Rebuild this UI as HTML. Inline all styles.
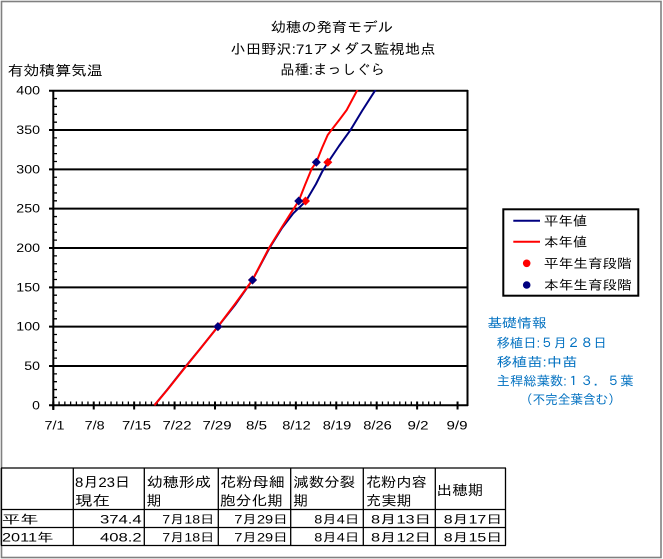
<!DOCTYPE html>
<html><head><meta charset="utf-8"><style>
html,body{margin:0;padding:0;background:#fff;}
body{width:663px;height:559px;overflow:hidden;}
svg{display:block;}
text{font-family:"Liberation Sans","IPAGothic","Noto Sans CJK JP",sans-serif;}
</style></head><body>
<svg width="663" height="559" viewBox="0 0 663 559" xmlns="http://www.w3.org/2000/svg">
<rect x="0" y="0" width="663" height="559" fill="#fff"/>
<rect x="1.5" y="1.5" width="659.5" height="556" fill="none" stroke="#808080" stroke-width="1.6"/>

<!-- titles -->
<text x="270.6" y="32" font-size="14" textLength="122.4" lengthAdjust="spacingAndGlyphs">幼穂の発育モデル</text>
<text x="230.4" y="54" font-size="14" textLength="205" lengthAdjust="spacingAndGlyphs">小田野沢:71アメダス監視地点</text>
<text x="280.3" y="74.5" font-size="14" textLength="104.5" lengthAdjust="spacingAndGlyphs">品種:まっしぐら</text>
<text x="7.6" y="75.5" font-size="14" textLength="95" lengthAdjust="spacingAndGlyphs">有効積算気温</text>

<!-- gridlines -->
<g stroke="#000" stroke-width="2" fill="none">
<path d="M49 90.7H468 M49 130.03H468 M49 169.35H468 M49 208.68H468 M49 248H468 M49 287.33H468 M49 326.65H468 M49 365.98H468 M49 405.3H468"/>
<path d="M53.3 90V410 M467.5 90V406"/>
</g>
<!-- minor ticks -->
<path stroke="#000" stroke-width="1.3" fill="none" d="M53.3 397.44h3.7m-3.7-7.865h3.7m-3.7-7.865h3.7m-3.7-7.865h3.7m-3.7-7.865h3.7m-3.7-7.865h3.7m-3.7-7.865h3.7m-3.7-7.865h3.7m-3.7-7.865h3.7m-3.7-7.865h3.7m-3.7-7.865h3.7m-3.7-7.865h3.7m-3.7-7.865h3.7m-3.7-7.865h3.7m-3.7-7.865h3.7m-3.7-7.865h3.7m-3.7-7.865h3.7m-3.7-7.865h3.7m-3.7-7.865h3.7m-3.7-7.865h3.7m-3.7-7.865h3.7m-3.7-7.865h3.7m-3.7-7.865h3.7m-3.7-7.865h3.7m-3.7-7.865h3.7m-3.7-7.865h3.7m-3.7-7.865h3.7m-3.7-7.865h3.7m-3.7-7.865h3.7m-3.7-7.865h3.7m-3.7-7.865h3.7m-3.7-7.865h3.7m-3.7-7.865h3.7m-3.7-7.865h3.7m-3.7-7.865h3.7m-3.7-7.865h3.7m-3.7-7.865h3.7m-3.7-7.865h3.7m-3.7-7.865h3.7"/>
<path stroke="#000" stroke-width="1.3" fill="none" d="M53.3 401.5v4m5.775-4v4m5.775-4v4m5.775-4v4m5.775-4v4m5.775-4v4m5.775-4v4m5.775-4v4m5.775-4v4m5.775-4v4m5.775-4v4m5.775-4v4m5.775-4v4m5.775-4v4m5.775-4v4m5.775-4v4m5.775-4v4m5.775-4v4m5.775-4v4m5.775-4v4m5.775-4v4m5.775-4v4m5.775-4v4m5.775-4v4m5.775-4v4m5.775-4v4m5.775-4v4m5.775-4v4m5.775-4v4m5.775-4v4m5.775-4v4m5.775-4v4m5.775-4v4m5.775-4v4m5.775-4v4m5.775-4v4m5.775-4v4m5.775-4v4m5.775-4v4m5.775-4v4m5.775-4v4m5.775-4v4m5.775-4v4m5.775-4v4m5.775-4v4m5.775-4v4m5.775-4v4m5.775-4v4m5.775-4v4m5.775-4v4m5.775-4v4m5.775-4v4m5.775-4v4m5.775-4v4m5.775-4v4m5.775-4v4m5.775-4v4m5.775-4v4m5.775-4v4m5.775-4v4m5.775-4v4m5.775-4v4m5.775-4v4m5.775-4v4m5.775-4v4m5.775-4v4m5.775-4v4m5.775-4v4"/>
<path stroke="#000" stroke-width="2" fill="none" d="M53.3 401.5V409.5 M93.73 401.5V409.5 M134.15 401.5V409.5 M174.58 401.5V409.5 M215 401.5V409.5 M255.43 401.5V409.5 M295.85 401.5V409.5 M336.28 401.5V409.5 M376.7 401.5V409.5 M417.13 401.5V409.5 M457.55 401.5V409.5"/>

<!-- y labels -->
<g font-size="11.5" text-anchor="end">
<text x="40" y="94.7" textLength="23.7" lengthAdjust="spacingAndGlyphs">400</text>
<text x="40" y="134" textLength="23.7" lengthAdjust="spacingAndGlyphs">350</text>
<text x="40" y="173.4" textLength="23.7" lengthAdjust="spacingAndGlyphs">300</text>
<text x="40" y="212.7" textLength="23.7" lengthAdjust="spacingAndGlyphs">250</text>
<text x="40" y="252" textLength="23.7" lengthAdjust="spacingAndGlyphs">200</text>
<text x="40" y="291.3" textLength="23.7" lengthAdjust="spacingAndGlyphs">150</text>
<text x="40" y="330.6" textLength="23.7" lengthAdjust="spacingAndGlyphs">100</text>
<text x="40" y="370" textLength="15.7" lengthAdjust="spacingAndGlyphs">50</text>
<text x="40" y="409.3" textLength="7.8" lengthAdjust="spacingAndGlyphs">0</text>
</g>
<!-- x labels -->
<g font-size="11.5" text-anchor="middle">
<text x="54.5" y="429.3" textLength="20" lengthAdjust="spacingAndGlyphs">7/1</text>
<text x="94.7" y="429.3" textLength="20" lengthAdjust="spacingAndGlyphs">7/8</text>
<text x="136.5" y="429.3" textLength="29" lengthAdjust="spacingAndGlyphs">7/15</text>
<text x="177" y="429.3" textLength="29" lengthAdjust="spacingAndGlyphs">7/22</text>
<text x="217" y="429.3" textLength="29" lengthAdjust="spacingAndGlyphs">7/29</text>
<text x="256.5" y="429.3" textLength="21" lengthAdjust="spacingAndGlyphs">8/5</text>
<text x="296.5" y="429.3" textLength="28.5" lengthAdjust="spacingAndGlyphs">8/12</text>
<text x="337" y="429.3" textLength="28.5" lengthAdjust="spacingAndGlyphs">8/19</text>
<text x="377.5" y="429.3" textLength="28.5" lengthAdjust="spacingAndGlyphs">8/26</text>
<text x="418" y="429.3" textLength="21" lengthAdjust="spacingAndGlyphs">9/2</text>
<text x="457" y="429.3" textLength="21" lengthAdjust="spacingAndGlyphs">9/9</text>
</g>

<!-- series -->
<defs><clipPath id="pc"><rect x="53" y="90" width="415" height="316"/></clipPath></defs>
<g clip-path="url(#pc)" fill="none" stroke-width="2" stroke-linejoin="round">
<polyline stroke="#000080" points="154.4,405.3 167,390 186,366 200,349 217.9,326.6 235,305 252.5,280 269.5,248 282,228 293.3,213.3 306,201 316,184 322,172 328,162.3 339,146 350.7,129.7 362,111 375,90.7 377,87"/>
<polyline stroke="#ff0000" points="154.4,405.3 168,389 187.3,364.7 200,349 217.9,326.6 235,304 252.5,280 269,248 282,227 290.7,213.3 298.7,201 305,185 311.7,168.7 316.3,162.3 322,148 327.7,135 331.7,129.7 340,119 346.7,110 357,90.7 359,87"/>
</g>
<!-- markers: red (平年) first, then navy (本年) -->
<g fill="#ff0000">
<path d="M217.9 322.1l4.5 4.5-4.5 4.5-4.5-4.5z"/>
<path d="M252.5 275.5l4.5 4.5-4.5 4.5-4.5-4.5z"/>
<path d="M305.5 196.5l4.5 4.5-4.5 4.5-4.5-4.5z"/>
<path d="M327.8 157.8l4.5 4.5-4.5 4.5-4.5-4.5z"/>
</g>
<g fill="#000080">
<path d="M217.9 322.1l4.5 4.5-4.5 4.5-4.5-4.5z"/>
<path d="M252.5 275.5l4.5 4.5-4.5 4.5-4.5-4.5z"/>
<path d="M298.7 196.5l4.5 4.5-4.5 4.5-4.5-4.5z"/>
<path d="M316.3 157.8l4.5 4.5-4.5 4.5-4.5-4.5z"/>
</g>

<!-- legend -->
<rect x="503.3" y="209.3" width="135" height="86.4" fill="#fff" stroke="#000" stroke-width="2"/>
<line x1="513.3" y1="220.7" x2="540" y2="220.7" stroke="#000080" stroke-width="2"/>
<line x1="513.3" y1="241.7" x2="540" y2="241.7" stroke="#ff0000" stroke-width="2"/>
<circle cx="526.7" cy="263.3" r="3.8" fill="#ff0000"/>
<circle cx="526.7" cy="285" r="3.8" fill="#000080"/>
<g font-size="13">
<text x="544" y="225.3" textLength="43.3" lengthAdjust="spacingAndGlyphs">平年値</text>
<text x="544" y="246.3" textLength="43.3" lengthAdjust="spacingAndGlyphs">本年値</text>
<text x="544" y="268" textLength="87.7" lengthAdjust="spacingAndGlyphs">平年生育段階</text>
<text x="544" y="289.6" textLength="87.7" lengthAdjust="spacingAndGlyphs">本年生育段階</text>
</g>

<!-- info -->
<g font-size="13" fill="#0070c0">
<text x="487.3" y="327.5" textLength="59.4" lengthAdjust="spacingAndGlyphs">基礎情報</text>
<text x="496.7" y="347.3" textLength="110" lengthAdjust="spacingAndGlyphs">移植日:５月２８日</text>
<text x="496.7" y="366.3" textLength="80.7" lengthAdjust="spacingAndGlyphs">移植苗:中苗</text>
<text x="496.7" y="385.3" textLength="136.7" lengthAdjust="spacingAndGlyphs">主稈総葉数:１３．５葉</text>
<text x="520" y="404" textLength="100.7" lengthAdjust="spacingAndGlyphs">（不完全葉含む）</text>
</g>

<!-- table -->
<g stroke="#000" stroke-width="1.3" fill="none">
<path d="M1 468H506 M1 509.5H506 M1 527.5H506 M1 545.5H506"/>
<path d="M1.3 468V545.5 M73.3 468V545.5 M144.3 468V545.5 M218.3 468V545.5 M290.7 468V545.5 M363.3 468V545.5 M435.3 468V545.5 M505.5 468V545.5"/>
</g>
<g font-size="14">
<text x="75" y="487" textLength="55" lengthAdjust="spacingAndGlyphs">8月23日</text>
<text x="75" y="505.5" textLength="35" lengthAdjust="spacingAndGlyphs">現在</text>
<text x="146.7" y="487" textLength="64.3" lengthAdjust="spacingAndGlyphs">幼穂形成</text>
<text x="146.7" y="505.5" textLength="15" lengthAdjust="spacingAndGlyphs">期</text>
<text x="220" y="487" textLength="65" lengthAdjust="spacingAndGlyphs">花粉母細</text>
<text x="220" y="505.5" textLength="63" lengthAdjust="spacingAndGlyphs">胞分化期</text>
<text x="293.3" y="487" textLength="62" lengthAdjust="spacingAndGlyphs">減数分裂</text>
<text x="293.3" y="505.5" textLength="15" lengthAdjust="spacingAndGlyphs">期</text>
<text x="366" y="487" textLength="60.7" lengthAdjust="spacingAndGlyphs">花粉内容</text>
<text x="366" y="505.5" textLength="45.7" lengthAdjust="spacingAndGlyphs">充実期</text>
<text x="436.7" y="495" textLength="46.7" lengthAdjust="spacingAndGlyphs">出穂期</text>
</g>
<g font-size="12">
<text x="2" y="523.5" textLength="36.3" lengthAdjust="spacingAndGlyphs">平年</text>
<text x="2" y="541.5" textLength="51.3" lengthAdjust="spacingAndGlyphs">2011年</text>
</g>
<g font-size="12" text-anchor="end">
<text x="141.7" y="523.5" textLength="41.7" lengthAdjust="spacingAndGlyphs">374.4</text>
<text x="214.3" y="523.5" textLength="52" lengthAdjust="spacingAndGlyphs">7月18日</text>
<text x="287.7" y="523.5" textLength="53.4" lengthAdjust="spacingAndGlyphs">7月29日</text>
<text x="359.3" y="523.5" textLength="45" lengthAdjust="spacingAndGlyphs">8月4日</text>
<text x="431" y="523.5" textLength="60" lengthAdjust="spacingAndGlyphs">8月13日</text>
<text x="502.2" y="523.5" textLength="58.4" lengthAdjust="spacingAndGlyphs">8月17日</text>
<text x="141.7" y="541.5" textLength="41.7" lengthAdjust="spacingAndGlyphs">408.2</text>
<text x="214.3" y="541.5" textLength="52" lengthAdjust="spacingAndGlyphs">7月18日</text>
<text x="287.7" y="541.5" textLength="53.4" lengthAdjust="spacingAndGlyphs">7月29日</text>
<text x="359.3" y="541.5" textLength="45" lengthAdjust="spacingAndGlyphs">8月4日</text>
<text x="431" y="541.5" textLength="60" lengthAdjust="spacingAndGlyphs">8月12日</text>
<text x="502.2" y="541.5" textLength="58.4" lengthAdjust="spacingAndGlyphs">8月15日</text>
</g>
</svg>
</body></html>
